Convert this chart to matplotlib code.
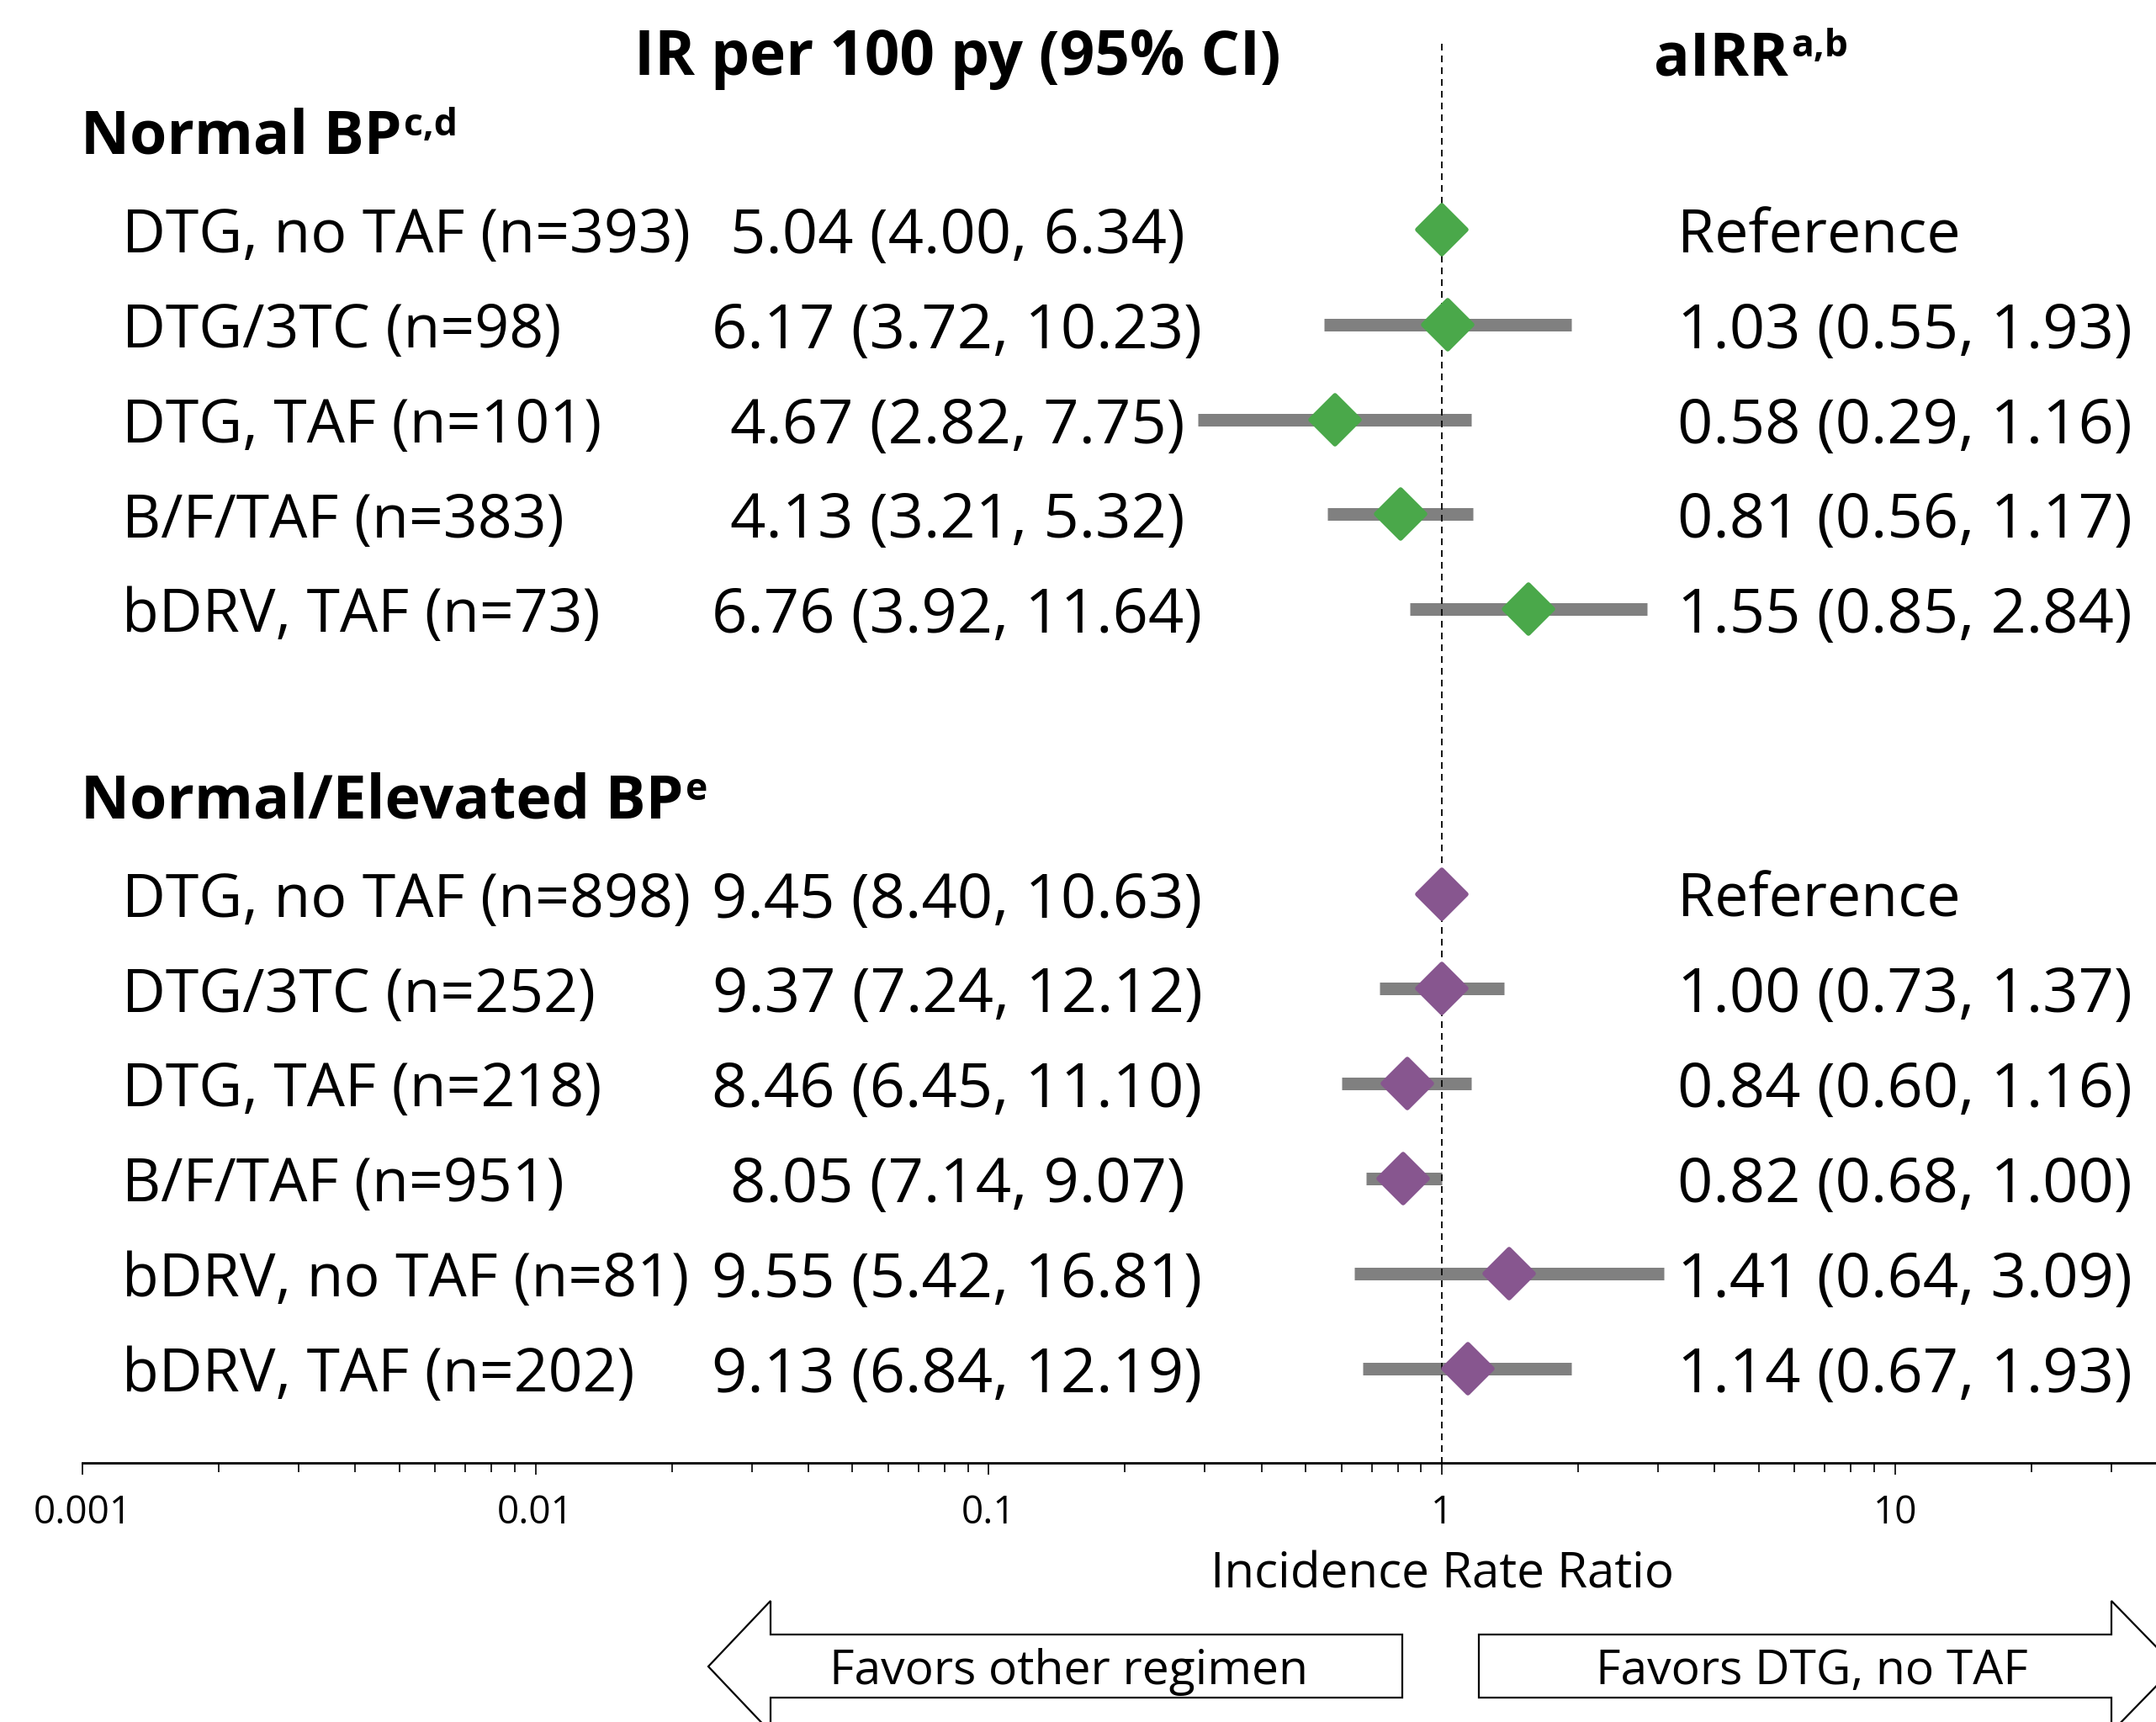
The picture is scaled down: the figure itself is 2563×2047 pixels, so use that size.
import matplotlib.pyplot as plt
import matplotlib.transforms as mtransforms
from matplotlib.markers import MarkerStyle
from matplotlib.patches import Polygon
from matplotlib.ticker import FixedLocator, FixedFormatter, LogLocator, NullFormatter

plt.rcParams['font.family'] = ['Open Sans', 'DejaVu Sans']

W, H = 2563, 2047

# --- data ---
group_titles = ["Normal BP", "Normal/Elevated BP"]
group_notes = ["c,d", "e"]

labels_1 = ["DTG, no TAF (n=393)", "DTG/3TC (n=98)", "DTG, TAF (n=101)",
            "B/F/TAF (n=383)", "bDRV, TAF (n=73)"]
ir_1 = [5.04, 6.17, 4.67, 4.13, 6.76]
ir_lo_1 = [4.00, 3.72, 2.82, 3.21, 3.92]
ir_hi_1 = [6.34, 10.23, 7.75, 5.32, 11.64]
airr_1 = [1.00, 1.03, 0.58, 0.81, 1.55]
airr_lo_1 = [None, 0.55, 0.29, 0.56, 0.85]
airr_hi_1 = [None, 1.93, 1.16, 1.17, 2.84]

labels_2 = ["DTG, no TAF (n=898)", "DTG/3TC (n=252)", "DTG, TAF (n=218)",
            "B/F/TAF (n=951)", "bDRV, no TAF (n=81)", "bDRV, TAF (n=202)"]
ir_2 = [9.45, 9.37, 8.46, 8.05, 9.55, 9.13]
ir_lo_2 = [8.40, 7.24, 6.45, 7.14, 5.42, 6.84]
ir_hi_2 = [10.63, 12.12, 11.10, 9.07, 16.81, 12.19]
airr_2 = [1.00, 1.00, 0.84, 0.82, 1.41, 1.14]
airr_lo_2 = [None, 0.73, 0.60, 0.68, 0.64, 0.67]
airr_hi_2 = [None, 1.37, 1.16, 1.00, 3.09, 1.93]

tick_vals = [0.001, 0.01, 0.1, 1, 10]
tick_labels = ["0.001", "0.01", "0.1", "1", "10"]

green = "#4aa84a"
purple = "#87568f"
grey = "#808080"

# row layout (one unit = one table row)
rows_1 = [1, 2, 3, 4, 5]
rows_2 = [8, 9, 10, 11, 12, 13]
title_rows = [0, 7]
axis_row = 14

fig = plt.figure(figsize=(W / 100, H / 100), dpi=100)
ax = fig.add_axes([98 / W, 0, 1 - 98 / W, 1])
ax.set_xscale('log')
ax.set_xlim(0.001, 10 ** ((W - 1714) / 538.67))
ax.set_ylim(16.727, -1.42)

# pixel-x / data-y transform for the table text, pixel transform for decorations
px_x = mtransforms.Affine2D().scale(1 / W, 1) + fig.transFigure
tx = mtransforms.blended_transform_factory(px_x, ax.transData)
pix = mtransforms.Affine2D().scale(1 / W, -1 / H).translate(0, 1) + fig.transFigure

diamond = MarkerStyle('D', joinstyle='round')

groups = [
    (rows_1, labels_1, ir_1, ir_lo_1, ir_hi_1, airr_1, airr_lo_1, airr_hi_1, green),
    (rows_2, labels_2, ir_2, ir_lo_2, ir_hi_2, airr_2, airr_lo_2, airr_hi_2, purple),
]

for rows, labs, ir, ir_lo, ir_hi, airr, lo, hi, col in groups:
    for y, l, h in zip(rows, lo, hi):
        if l is not None:
            ax.plot([l, h], [y, y], color=grey, lw=10.8, solid_capstyle='butt', zorder=1)
    ax.plot(airr, rows, linestyle='none', marker=diamond, ms=29.7, color=col,
            mec=col, mew=4, zorder=3)
    for i, y in enumerate(rows):
        ax.text(145, y, labs[i], transform=tx, ha='left', va='center_baseline', fontsize=51.5)
        ax.text(1138, y, f"{ir[i]:.2f} ({ir_lo[i]:.2f}, {ir_hi[i]:.2f})", transform=tx,
                ha='center', va='center_baseline', fontsize=53.3)
        if lo[i] is None:
            ax.text(1994, y, "Reference", transform=tx, ha='left', va='center_baseline',
                    fontsize=51.5)
        else:
            ax.text(1994, y, f"{airr[i]:.2f} ({lo[i]:.2f}, {hi[i]:.2f})", transform=tx,
                    ha='left', va='center_baseline', fontsize=53.3)

# group titles with superscripts
for y, title, note in zip(title_rows, group_titles, group_notes):
    t = ax.text(96, y + 0.2, title, transform=tx, ha='left', va='baseline',
                fontsize=51.5, fontweight='bold')
    ax.annotate(note, xy=(1.0, y + 0.01), xycoords=(t, 'data'), xytext=(2, 0),
                textcoords='offset points', ha='left', va='baseline',
                fontsize=32, fontweight='bold')

# column headers
ax.text(1138, -0.63, "IR per 100 py (95% CI)", transform=tx, ha='center', va='baseline',
        fontsize=52.5, fontweight='bold')
h2 = ax.text(1966, -0.63, "aIRR", transform=tx, ha='left', va='baseline',
             fontsize=51, fontweight='bold')
ax.annotate("a,b", xy=(1.0, -0.826), xycoords=(h2, 'data'), xytext=(2, 0),
            textcoords='offset points', ha='left', va='baseline',
            fontsize=32, fontweight='bold')

# reference line at 1
ax.vlines(1, -0.96, axis_row, colors='#111111', lw=1.4, linestyles=(0, (4.1, 3.1)), zorder=2)

# x axis
for s in ['top', 'left', 'right']:
    ax.spines[s].set_visible(False)
ax.spines['bottom'].set_position(('data', axis_row))
ax.spines['bottom'].set_linewidth(2)
ax.set_yticks([])
ax.xaxis.set_major_locator(FixedLocator(tick_vals))
ax.xaxis.set_major_formatter(FixedFormatter(tick_labels))
ax.xaxis.set_minor_locator(LogLocator(base=10, subs=range(2, 10)))
ax.xaxis.set_minor_formatter(NullFormatter())
ax.tick_params(axis='x', which='major', direction='out', length=10, width=1.2,
               labelsize=33, pad=16)
ax.tick_params(axis='x', which='minor', direction='out', length=8, width=1.2)

ax.text(1, 15.31, "Incidence Rate Ratio", ha='center', va='baseline', fontsize=42)

# favour arrows
left_arrow = [(916, 1943), (1667, 1943), (1667, 2018), (916, 2018), (916, 2059),
              (842, 1981), (916, 1903)]
right_arrow = [(2510, 1943), (1758, 1943), (1758, 2018), (2510, 2018), (2510, 2059),
               (2586, 1981), (2510, 1903)]
for pts in [left_arrow, right_arrow]:
    fig.patches.append(Polygon(pts, closed=True, facecolor='white', edgecolor='black',
                               lw=1.6, transform=pix, clip_on=False))
fig.text(1271, 2002, "Favors other regimen", transform=pix, ha='center', va='baseline',
         fontsize=41)
fig.text(2154, 2002, "Favors DTG, no TAF", transform=pix, ha='center', va='baseline',
         fontsize=41)

fig.savefig("out.png", dpi=100)
